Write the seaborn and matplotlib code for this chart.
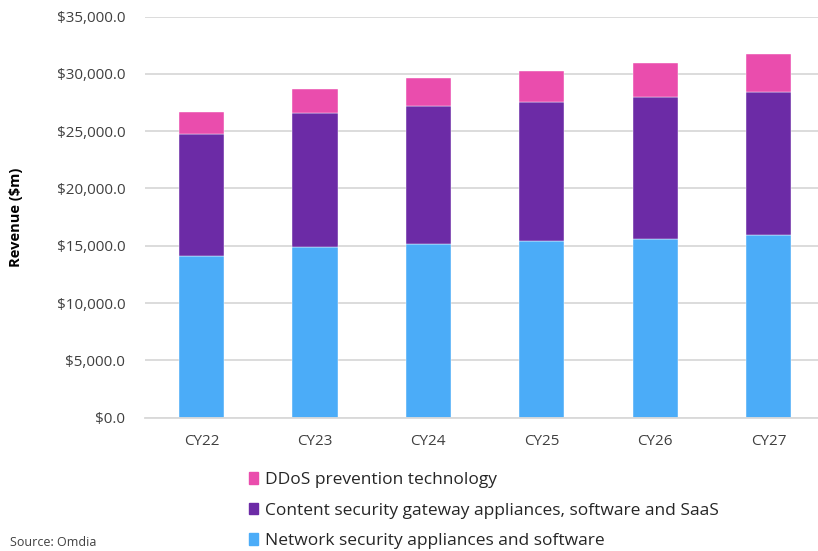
import numpy as np
import pandas as pd
import seaborn as sns
import matplotlib.pyplot as plt
from matplotlib.ticker import FuncFormatter
from matplotlib.patches import Patch

# data ($m)
years = ["CY22", "CY23", "CY24", "CY25", "CY26", "CY27"]
network = [14080, 14900, 15130, 15390, 15590, 15920]
content_total = [24730, 26560, 27170, 27570, 28010, 28450]
ddos_total = [26700, 28680, 29670, 30280, 30950, 31740]

content = list(np.array(content_total) - np.array(network))
ddos = list(np.array(ddos_total) - np.array(content_total))

labels = [
    "Network security appliances and software",
    "Content security gateway appliances, software and SaaS",
    "DDoS prevention technology",
]
colors = ["#4BACF8", "#6C2BA6", "#EA4DAD"]

df = pd.DataFrame({"year": years, "network": network, "content": content, "ddos": ddos})

sns.set_theme(style="white")
plt.rcParams["font.family"] = ["Open Sans", "DejaVu Sans"]

fig = plt.figure(figsize=(8.18, 5.51), dpi=100)
ax = fig.add_axes([0.177, 0.242, 0.832, 0.728])

# stacked bars, one seaborn call per layer
bottom = np.zeros(len(years))
for col, lab, c in zip(["network", "content", "ddos"], labels, colors):
    sns.barplot(data=df, x="year", y=col, color=c, width=0.4, bottom=bottom,
                ax=ax, edgecolor="white", linewidth=0.3, saturation=1)
    bottom = bottom + df[col].values

ax.set_ylim(0, 35000)
ax.set_yticks(np.arange(0, 35001, 5000))
ax.yaxis.set_major_formatter(FuncFormatter(lambda v, p: f"${v:,.1f}"))
ax.grid(axis="y", color="#D9D9D9", linewidth=1.3)
ax.set_axisbelow(True)
for s in ["top", "right", "left"]:
    ax.spines[s].set_visible(False)
ax.spines["bottom"].set_color("#D9D9D9")
ax.spines["bottom"].set_linewidth(1.3)
ax.tick_params(axis="both", length=0, labelsize=11, colors="#404040")
ax.tick_params(axis="x", pad=12)
ax.tick_params(axis="y", pad=14)
ax.set_xlabel("")
ax.set_ylabel("Revenue ($m)", fontsize=10.5, fontweight="bold", color="black", labelpad=24)

handles = [Patch(color=c) for c in colors[::-1]]
fig.legend(handles, labels[::-1], loc="upper left", bbox_to_anchor=(0.285, 0.172),
           frameon=False, fontsize=12.5, handlelength=0.55, handleheight=0.65,
           handletextpad=0.4, labelspacing=0.85, labelcolor="#262626")

fig.text(0.012, 0.004, "Source: Omdia", fontsize=9, color="#404040", va="bottom")

fig.savefig("out.png", dpi=100)
